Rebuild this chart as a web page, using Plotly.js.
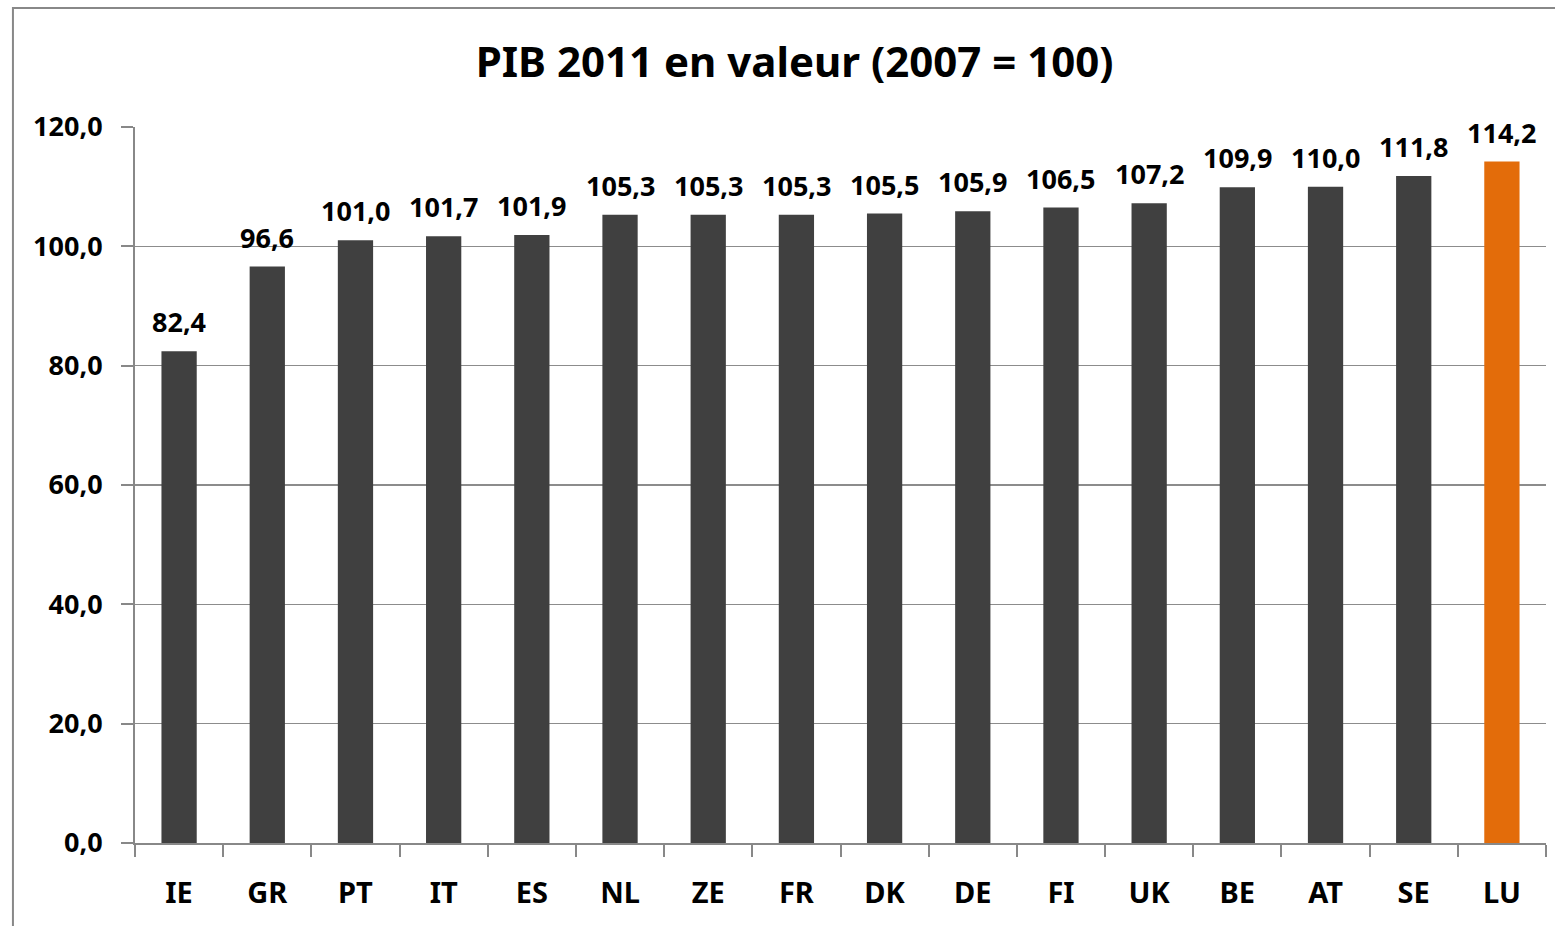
<!DOCTYPE html>
<html>
<head>
<meta charset="utf-8">
<script src="https://cdn.plot.ly/plotly-3.0.1.min.js"></script>
<style>html,body{margin:0;padding:0;background:#fff}#chart{width:1555px;height:926px}</style>
</head>
<body>
<div id="chart"></div>
<script>
const countries = ["IE","GR","PT","IT","ES","NL","ZE","FR","DK","DE","FI","UK","BE","AT","SE","LU"];
const values = [82.4,96.6,101.0,101.7,101.9,105.3,105.3,105.3,105.5,105.9,106.5,107.2,109.9,110.0,111.8,114.2];
const highlight = "LU";
const titleText = "PIB 2011 en valeur (2007 = 100)";
const yTicks = [0,20,40,60,80,100,120];

const colors = countries.map(c => c === highlight ? "#E36C0A" : "#404040");
const FONT = "'Noto Sans', 'Open Sans', sans-serif";

const trace = {
  type: "bar",
  x: countries,
  y: values,
  marker: {color: colors, line: {width: 0}},
  hoverinfo: "x+y"
};

const labelAnnotations = countries.map((c, i) => ({
  x: c, y: values[i], xref: "x", yref: "y",
  text: values[i].toFixed(1).replace(".", ","),
  showarrow: false, xanchor: "center", yanchor: "bottom", yshift: 9,
  font: {family: FONT, size: 27, color: "#000", weight: 700}
}));

const layout = {
  width: 1555, height: 926,
  margin: {l: 135, r: 9, t: 127, b: 83, pad: 0},
  paper_bgcolor: "#fff", plot_bgcolor: "#fff",
  separators: ", ",
  bargap: 0.6,
  showlegend: false,
  title: {text: titleText, x: 0.511, xanchor: "center", y: 0.933, yanchor: "middle",
          font: {family: FONT, size: 42, color: "#000", weight: 700}},
  xaxis: {
    type: "category",
    showline: true, linecolor: "#888", linewidth: 2,
    ticks: "outside", tickson: "boundaries", ticklen: 12, tickcolor: "#888", tickwidth: 2,
    tickfont: {family: FONT, size: 29, color: "#000", weight: 700},
    ticklabelstandoff: 23,
    showgrid: false, zeroline: false
  },
  yaxis: {
    range: [0, 120],
    tickvals: yTicks,
    tickformat: ".1f",
    showline: true, linecolor: "#888", linewidth: 2,
    ticks: "outside", ticklen: 12, tickcolor: "#888", tickwidth: 2,
    tickfont: {family: FONT, size: 27, color: "#000", weight: 700},
    ticklabelstandoff: 13,
    showgrid: true, gridcolor: "#8c8c8c", gridwidth: 1.5,
    zeroline: false
  },
  annotations: labelAnnotations,
  shapes: [{
    type: "rect", xref: "paper", yref: "paper",
    x0: -0.0865, x1: 1.05, y0: -0.3, y1: 1.1662,
    line: {color: "#888", width: 2}, layer: "below"
  }]
};

Plotly.newPlot("chart", [trace], layout, {displayModeBar: false, staticPlot: true});
</script>
</body>
</html>
